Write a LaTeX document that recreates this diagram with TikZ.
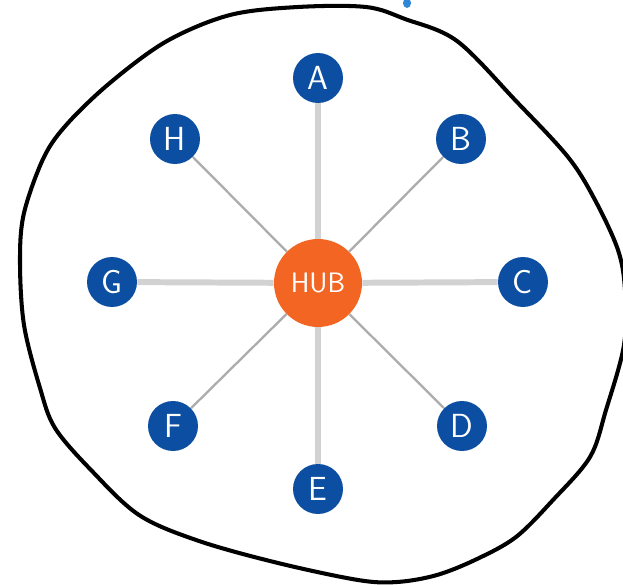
\documentclass[tikz,border=0pt]{standalone}
\usepackage{tikz}
\pgfdeclarelayer{background}
\pgfsetlayers{background,main}
\definecolor{spokeblue}{HTML}{0B4EA2}
\definecolor{huborange}{HTML}{F26522}
\definecolor{titleblue}{HTML}{2F86D6}

\begin{document}
\begin{tikzpicture}[x=0.02cm, y=-0.02cm,
    leaf/.style={circle, fill=spokeblue, text=white, minimum size=1cm, inner sep=0pt, font=\sffamily\fontsize{19}{19}\selectfont},
    hubnode/.style={circle, fill=huborange, text=white, minimum size=1.76cm, inner sep=0pt, font=\sffamily\fontsize{16}{16}\selectfont},
    mainspoke/.style={line width=3.4pt, gray!35},
    sidespoke/.style={line width=1.3pt, gray!65}]
  \useasboundingbox (0,0) rectangle (623,585);
  \clip (0,0) rectangle (623,585);
  \fill[titleblue] (407,3) ellipse (4 and 5);
  \node[hubnode] (hub) at (318,283) {HUB};
  \node[leaf] (a) at (318,78) {A};
  \node[leaf] (b) at (461,139) {B};
  \node[leaf] (c) at (523,282) {C};
  \node[leaf] (d) at (462,426) {D};
  \node[leaf] (e) at (318,489) {E};
  \node[leaf] (f) at (173,426) {F};
  \node[leaf] (g) at (112,282) {G};
  \node[leaf] (h) at (175,139) {H};
  \begin{pgfonlayer}{background}
    \draw[mainspoke] (hub) -- (a);
    \draw[mainspoke] (hub) -- (c);
    \draw[mainspoke] (hub) -- (e);
    \draw[mainspoke] (hub) -- (g);
    \draw[sidespoke] (hub) -- (b);
    \draw[sidespoke] (hub) -- (d);
    \draw[sidespoke] (hub) -- (f);
    \draw[sidespoke] (hub) -- (h);
  \end{pgfonlayer}
  % hand drawn outline
  \draw[line width=2.3pt, line join=round] plot[smooth cycle, tension=0.55] coordinates {
    (230,15) (298,7) (366,7) (405,19) (457,41) (516,101) (568,157) (595,200) (618,250)
    (625,290) (624,345) (606,410) (590,457) (553,500) (516,537) (477,559) (437,575)
    (397,582) (358,580) (278,563) (199,541) (139,515) (91,470) (55,428) (40,388)
    (24,325) (20,261) (24,213) (44,157) (68,123) (111,82) (167,41)};
\end{tikzpicture}
\end{document}
